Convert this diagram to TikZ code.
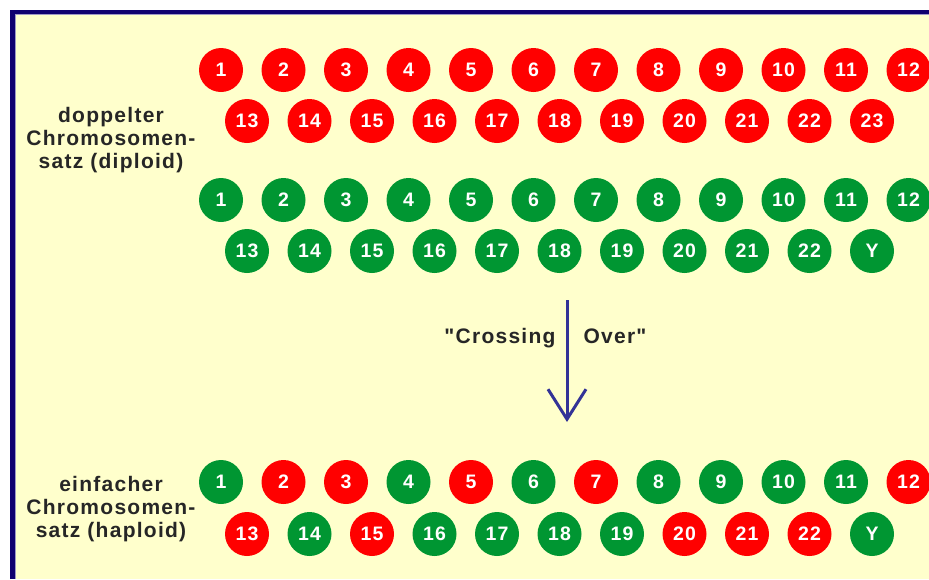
\documentclass[tikz,border=0pt]{standalone}
\usepackage{fontspec}
\setmainfont{Liberation Sans}
\newfontfamily\chromfont[LetterSpace=6]{Liberation Sans}
\usetikzlibrary{arrows.meta}

\begin{document}
\begin{tikzpicture}[
    x=1pt, y=-1pt,
    every node/.style={font=\chromfont\bfseries\fontsize{21}{23}\selectfont},
    chrom/.style={circle, fill=#1, minimum size=44pt, inner sep=0pt,
        text=white, font=\chromfont\bfseries\fontsize{19.5}{19.5}\selectfont},
    setlabel/.style={align=center, text=black!85},
]

\definecolor{paper}{RGB}{255,255,204}
\definecolor{frame}{RGB}{16,0,112}
\definecolor{mred}{RGB}{255,0,0}
\definecolor{pgreen}{RGB}{0,150,50}
\definecolor{arrowc}{RGB}{51,51,150}

% ---------- page, frame ----------
\useasboundingbox (0,0) rectangle (929,579);
\clip (0,0) rectangle (929,579);
\fill[white] (0,0) rectangle (929,579);
\fill[paper] (12,12) rectangle (929,579);
\draw[frame!40, line width=0.8pt] (15,579) -- (15,14.6) -- (929,14.6);
\draw[frame, line width=4.5pt] (12.5,579) -- (12.5,12) -- (929,12);

% ---------- macro: one row of chromosomes ----------
% #1 = name prefix, #2 = x of first circle, #3 = y, #4 = list number/colour
\newcommand{\chromrow}[4]{%
    \foreach \n/\c [count=\i from 0] in {#4}{
        \node[chrom=\c] (#1\n) at ({#2+62.5*\i},#3) {\n};
    }
}

% doppelter Satz: maternal (red) and paternal (green)
\chromrow{mat}{221}{70}{1/mred,2/mred,3/mred,4/mred,5/mred,6/mred,7/mred,8/mred,9/mred,10/mred,11/mred,12/mred}
\chromrow{mat}{247}{121}{13/mred,14/mred,15/mred,16/mred,17/mred,18/mred,19/mred,20/mred,21/mred,22/mred,23/mred}
\chromrow{pat}{221}{200}{1/pgreen,2/pgreen,3/pgreen,4/pgreen,5/pgreen,6/pgreen,7/pgreen,8/pgreen,9/pgreen,10/pgreen,11/pgreen,12/pgreen}
\chromrow{pat}{247}{251}{13/pgreen,14/pgreen,15/pgreen,16/pgreen,17/pgreen,18/pgreen,19/pgreen,20/pgreen,21/pgreen,22/pgreen,Y/pgreen}

% einfacher Satz after crossing over
\chromrow{hap}{221}{482}{1/pgreen,2/mred,3/mred,4/pgreen,5/mred,6/pgreen,7/mred,8/pgreen,9/pgreen,10/pgreen,11/pgreen,12/mred}
\chromrow{hap}{247}{534}{13/mred,14/pgreen,15/mred,16/pgreen,17/pgreen,18/pgreen,19/pgreen,20/mred,21/mred,22/mred,Y/pgreen}

% ---------- labels ----------
\node[setlabel] (diplab) at (111,140) {doppelter\\Chromosomen-\\satz (diploid)};
\node[setlabel] (haplab) at (111,509) {einfacher\\Chromosomen-\\satz (haploid)};

% ---------- crossing over arrow ----------
\coordinate (cotop) at (567,300);
\coordinate (cobot) at (567,422);
\draw[arrowc, line width=3pt, -{Straight Barb[length=30pt, width=38pt]}] (cotop) -- (cobot);
\node[text=black!85, anchor=base] (colft) at (500,343) {"Crossing};
\node[text=black!85, anchor=base] (corgt) at (615,343) {Over"};

\end{tikzpicture}
\end{document}
